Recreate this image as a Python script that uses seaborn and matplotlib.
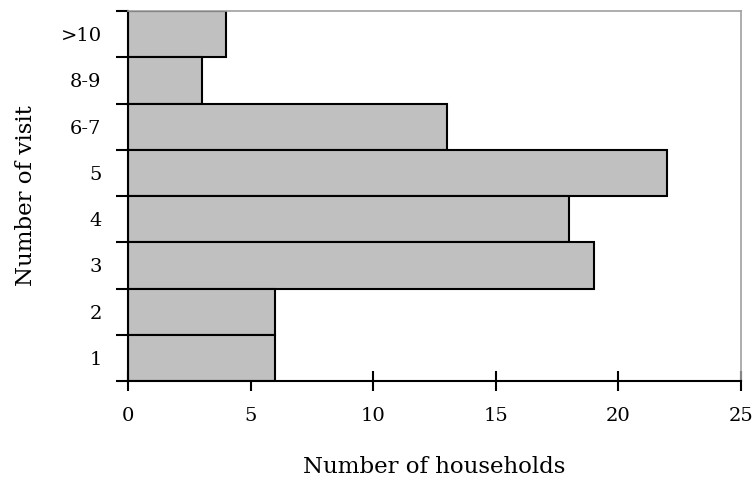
import matplotlib
matplotlib.use('Agg')
import matplotlib.pyplot as plt
import seaborn as sns
import pandas as pd
import numpy as np

# categories listed top to bottom
visits = ['>10', '8-9', '6-7', '5', '4', '3', '2', '1']
households = [4, 3, 13, 22, 18, 19, 6, 6]

df = pd.DataFrame({'visit': visits, 'households': households})

sns.set_style('white')
plt.rcParams['font.family'] = ['DejaVu Serif']
plt.rcParams['text.color'] = 'black'
plt.rcParams['axes.labelcolor'] = 'black'
plt.rcParams['xtick.color'] = 'black'
plt.rcParams['ytick.color'] = 'black'

fig = plt.figure(figsize=(7.55, 4.88), dpi=100)
ax = fig.add_axes([128 / 755, 107 / 488, 613 / 755, 370 / 488])

sns.barplot(data=df, x='households', y='visit', order=visits, orient='h',
            color='#C0C0C0', saturation=1, width=1.0,
            edgecolor='black', linewidth=1.5, ax=ax)

ax.set_xlim(0, 25)
ax.set_ylim(len(visits) - 0.5, -0.5)
ax.set_xticks(np.arange(0, 26, 5))

# tick marks at category boundaries, labels centred on bars
ax.set_yticks(np.arange(len(visits)))
ax.set_yticklabels(visits)
ax.set_yticks(np.arange(-0.5, len(visits), 1), minor=True)
ax.tick_params(axis='y', which='major', length=0, pad=19, labelsize=14)
ax.tick_params(axis='y', which='minor', length=9, width=1.5, direction='out', left=True)
ax.tick_params(axis='x', which='major', length=14, width=1.5, direction='inout',
               bottom=True, pad=12, labelsize=14)

for side in ['left', 'bottom']:
    ax.spines[side].set_color('black')
    ax.spines[side].set_linewidth(1.5)
for side in ['top', 'right']:
    ax.spines[side].set_color('#A0A0A0')
    ax.spines[side].set_linewidth(1.2)

ax.set_xlabel('Number of households', fontsize=16.5, labelpad=22)
ax.set_ylabel('Number of visit', fontsize=16.5, labelpad=17)

fig.savefig('out.png', dpi=100)
